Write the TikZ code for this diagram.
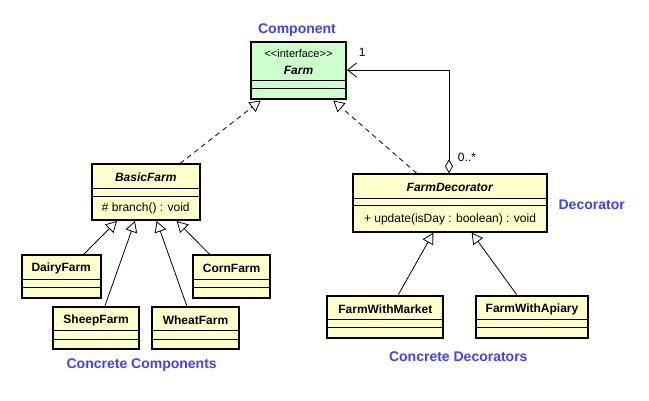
\documentclass[tikz,border=0pt]{standalone}
\usepackage{fontspec}
\setmainfont{Liberation Sans}
\usetikzlibrary{arrows.meta,calc}
\definecolor{umlgreen}{RGB}{204,255,204}
\definecolor{umlyellow}{RGB}{255,255,204}
\definecolor{umlblue}{RGB}{64,64,255}
\tikzset{
  cls/.style={draw=black, line width=2pt, rectangle, inner sep=0pt},
  txt/.style={inner sep=0pt, font=\fontsize{12}{14}\selectfont},
  small/.style={inner sep=0pt, font=\fontsize{11}{13}\selectfont},
  lbl/.style={inner sep=0pt, text=umlblue, font=\fontsize{14}{16}\selectfont\bfseries},
  divider/.style={line width=1pt},
  gen/.style={line width=0.8pt, -{Triangle[open, length=11pt, width=12pt, fill=white]}},
  real/.style={gen, dash pattern=on 5pt off 4pt},
}
\begin{document}
\begin{tikzpicture}[x=1pt, y=-1pt]
\useasboundingbox (0,0) rectangle (649,401);
% Farm
\node[cls, fill=umlgreen, minimum width=95pt, minimum height=57pt] (farm) at (298.5,71) {};
\node[small] (farm-st) at (298.5,54) {<\kern0pt<interface>\kern0pt>};
\node[txt] (farm-t) at (298.5,70) {\textbf{\textit{Farm}}};
\draw[divider] (farm.west |- 0,80.7) -- (farm.east |- 0,80.7);
\draw[divider] (farm.west |- 0,88.3) -- (farm.east |- 0,88.3);
% BasicFarm
\node[cls, fill=umlyellow, minimum width=107.5pt, minimum height=55.5pt] (basic) at (145.75,192.25) {};
\node[txt] (basic-t) at (145.75,177.7) {\textbf{\textit{BasicFarm}}};
\node[txt] (basic-m) at (145.75,208.5) {\# branch() : void};
\draw[divider] (basic.west |- 0,188.3) -- (basic.east |- 0,188.3);
\draw[divider] (basic.west |- 0,196.7) -- (basic.east |- 0,196.7);
% DairyFarm
\node[cls, fill=umlyellow, minimum width=79pt, minimum height=43.3pt] (dairy) at (61.2,276.65) {};
\node[txt] (dairy-t) at (61.2,268.5) {\textbf{DairyFarm}};
\draw[divider] (dairy.west |- 0,279.3) -- (dairy.east |- 0,279.3);
\draw[divider] (dairy.west |- 0,287.7) -- (dairy.east |- 0,287.7);
% CornFarm
\node[cls, fill=umlyellow, minimum width=76.7pt, minimum height=43.3pt] (corn) at (231.65,276.65) {};
\node[txt] (corn-t) at (231.65,268.5) {\textbf{CornFarm}};
\draw[divider] (corn.west |- 0,279.3) -- (corn.east |- 0,279.3);
\draw[divider] (corn.west |- 0,287.7) -- (corn.east |- 0,287.7);
% SheepFarm
\node[cls, fill=umlyellow, minimum width=85.7pt, minimum height=42.6pt] (sheep) at (96.15,328) {};
\node[txt] (sheep-t) at (96.15,320) {\textbf{SheepFarm}};
\draw[divider] (sheep.west |- 0,331) -- (sheep.east |- 0,331);
\draw[divider] (sheep.west |- 0,339.4) -- (sheep.east |- 0,339.4);
% WheatFarm
\node[cls, fill=umlyellow, minimum width=87.6pt, minimum height=42.6pt] (wheat) at (195.5,328) {};
\node[txt] (wheat-t) at (195.5,320) {\textbf{WheatFarm}};
\draw[divider] (wheat.west |- 0,331) -- (wheat.east |- 0,331);
\draw[divider] (wheat.west |- 0,339.4) -- (wheat.east |- 0,339.4);
% FarmDecorator
\node[cls, fill=umlyellow, minimum width=193.4pt, minimum height=57.4pt] (deco) at (450,203) {};
\node[txt] (deco-t) at (450,187.5) {\textbf{\textit{FarmDecorator}}};
\node[txt] (deco-m) at (450,219) {+ update(isDay : boolean) : void};
\draw[divider] (deco.west |- 0,198.3) -- (deco.east |- 0,198.3);
\draw[divider] (deco.west |- 0,206) -- (deco.east |- 0,206);
% FarmWithMarket
\node[cls, fill=umlyellow, minimum width=116pt, minimum height=42.6pt] (market) at (385.3,317) {};
\node[txt] (market-t) at (385.3,309.5) {\textbf{FarmWithMarket}};
\draw[divider] (market.west |- 0,320) -- (market.east |- 0,320);
\draw[divider] (market.west |- 0,327.7) -- (market.east |- 0,327.7);
% FarmWithApiary
\node[cls, fill=umlyellow, minimum width=112.6pt, minimum height=42.6pt] (apiary) at (532,317) {};
\node[txt] (apiary-t) at (532,309.5) {\textbf{FarmWithApiary}};
\draw[divider] (apiary.west |- 0,320) -- (apiary.east |- 0,320);
\draw[divider] (apiary.west |- 0,327.7) -- (apiary.east |- 0,327.7);
% labels
\node[lbl] (l-comp) at (297,30) {Component};
\node[lbl] (l-deco) at (591.7,205) {Decorator};
\node[lbl] (l-cc) at (141.7,365) {Concrete Components};
\node[lbl] (l-cd) at (458.3,356.5) {Concrete Decorators};
% realizations
\draw[real] ($(basic.north)+(34.25,0)$) -- ($(farm.south)+(-37.8,0)$);
\draw[real] ($(deco.north)+(-33.3,0)$) -- ($(farm.south)+(34.8,0)$);
% generalizations
\draw[gen] ($(dairy.north)+(22.8,0)$) -- ($(basic.south)+(-28.75,0)$);
\draw[gen] ($(sheep.north)+(8.85,0)$) -- ($(basic.south)+(-10.75,0)$);
\draw[gen] ($(wheat.north)+(-8.8,0)$) -- ($(basic.south)+(10.95,0)$);
\draw[gen] ($(corn.north)+(-22.35,0)$) -- ($(basic.south)+(30.95,0)$);
\draw[gen] ($(market.north)+(13,0)$) -- ($(deco.south)+(-16.7,0)$);
\draw[gen] ($(apiary.north)+(-15.3,0)$) -- ($(deco.south)+(21.7,0)$);
% aggregation
\coordinate (aggstart) at ($(deco.north)+(-1,0)$);
\draw[line width=0.8pt, {Diamond[open, length=14pt, width=8pt, fill=white]}-{Straight Barb[length=9pt, width=14pt]}]
  (aggstart) |- ($(farm.east)+(0,-1)$);
\node[txt] (m-one) at (362.3,52.7) {1};
\node[txt] (m-many) at (467,157.3) {0..*};
\end{tikzpicture}
\end{document}
